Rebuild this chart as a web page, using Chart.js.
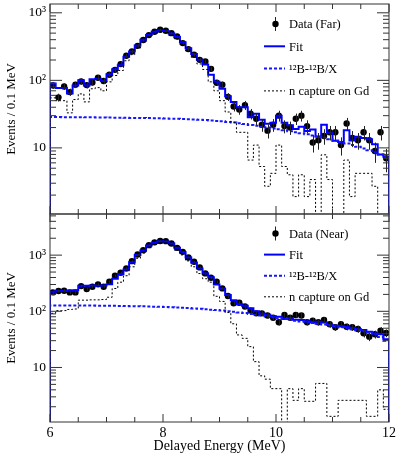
<!DOCTYPE html>
<html><head><meta charset="utf-8">
<script src="https://cdn.jsdelivr.net/npm/chart.js@4/dist/chart.umd.min.js"></script>
<style>
html,body{margin:0;padding:0;background:#fff;}
#wrap{position:relative;width:399px;height:459px;overflow:hidden;}
canvas{position:absolute;left:0;top:0;}
</style></head><body>
<div id="wrap">
<canvas id="cTop" width="399" height="459"></canvas>
<canvas id="cBot" width="399" height="459"></canvas>
</div>
<script>
// ---- bins (MeV) ----
const binEdges = [6.0,6.1,6.2,6.3,6.4,6.5,6.6,6.7,6.8,6.9,7.0,7.1,7.2,7.3,7.4,7.5,7.6,7.7,7.8,7.9,
  8.0,8.1,8.2,8.3,8.4,8.5,8.6,8.7,8.8,8.9,9.0,9.1,9.2,9.3,9.4,9.5,9.6,9.7,9.8,9.9,
  10.0,10.1,10.2,10.3,10.4,10.5,10.6,10.7,10.8,10.9,11.0,11.1,11.2,11.3,11.4,11.5,11.6,11.7,11.8,11.9,12.0];

// ---- Far site ----
const farData = [84,56,81,67,86,96,85,93,109,98, 121,143,174,231,267,324,395,468,525,560,
  541,500,446,356,290,239,201,190,148,92, 86,57,41,37,43,32,27,22,18,22,
  30,21,20,27,30,21,12,13,15,17, 17,11,23,14,13,17,13,9,17,7];
const farFit = [90,77,77,64,84,100,84,104,106,98, 123,146,168,223,268,328,398,468,522,547,
  537,492,437,367,299,246,201,171,121,95, 75,58,48,40,40,28.5,32,26,22.7,23.6,
  30,23.6,21.7,19,20.5,17.8,18.7,14.7,22,16.8, 12.8,12.2,18.2,12.9,14.6,14,13.4,11.3,8,7.4];
const farB12 = [28.6,28.6,28.5,28.5,28.4,28.4,28.3,28.3,28.2,28.2, 28.1,28.0,28.0,27.9,27.8,27.8,27.7,27.6,27.5,27.4,
  27.3,27.1,27.0,26.8,26.6,26.4,26.1,25.8,25.5,25.1, 24.7,24.2,23.7,23.1,22.5,21.9,21.3,20.6,20.0,19.4,
  18.8,18.3,17.7,17.1,16.5,15.9,15.3,14.7,14.1,13.4, 12.8,12.2,11.6,11.0,10.4,9.8,9.2,8.6,8.0,7.4];
const farGd = [55,50,50,33,52,63,48,75,78,70, 95,118,140,195,240,300,370,440,495,520,
  510,465,410,340,272,220,175,145,95,70, 50,34,24,17,17,6.6,11,5.3,2.7,4.2,
  11,5.3,4,1.9,4,1.9,3.4,0,7.9,3.4, 0,0,6.6,1.9,4.2,4.2,4.2,2.7,0,0];

// ---- Near site ----
const nearData = [217,230,232,217,217,281,249,274,302,274, 336,429,485,580,782,1028,1228,1506,1690,1785,
  1774,1615,1348,1145,910,761,605,473,395,336, 256,187,139,142,122,103,92,92,84,77,
  64,86,77,86,84,64,68,64,70,59, 52,59,53,52,48.5,40.6,35.4,39,45.3,41];
const nearFit = [222,230,230,235,237,285,285,287,286,288, 303,380,455,554,744,1003,1213,1482,1661,1760,
  1749,1608,1347,1126,904,733,581,470,405,300, 253,195,158,134,126,113.5,100,91,87,82,
  80,73,75,71,70,66.5,64.5,65,63,57.4, 55.4,54.6,52.6,50.6,48.6,46.6,43.4,40.4,39,31.8];
const nearB12 = [127,127,127,127,127,127,126.5,126.5,126,126, 125.5,125,124.5,124,123.5,123,122.5,122,121,120,
  119,118,117,115.5,114,112.5,111,109,107,105, 103,100.5,98,95.5,93,90,87,84,81,78,
  75.5,73,70.5,68,66,64,62,60,58,56, 54,52,50,48,46,44,42,39,35,30];
const nearGd = [92,103,103,108,110,158,158,160,160,162, 178,255,330,430,620,880,1090,1360,1540,1640,
  1630,1490,1230,1010,790,620,470,380,330,185, 150,95,60,38,33,23.5,12.7,7.1,6.2,4.2,
  4.2,0,4.2,2.6,4.2,2.5,2.5,5.2,5.2,1.35, 1.35,2.6,2.6,2.6,2.6,2.6,1.35,1.35,4,1.8];

// ---- ticks & labels ----
const yTickValues = [10, 100, 1000];
const yTickLabels = ['10', '10²', '10³'];
const xTickValues = [6, 8, 10, 12];
const xTickLabels = ['6', '8', '10', '12'];
const xMinorTicks = [6.5, 7, 7.5, 8.5, 9, 9.5, 10.5, 11, 11.5];
const legendLabels = ['Fit', '¹²B-¹²B/X', 'n capture on Gd'];

const FONT = "'Liberation Serif', 'DejaVu Serif', serif";
Chart.defaults.font.family = FONT;
Chart.defaults.color = '#000';

const FLOOR = 1e-3; // empty bins sit below the axis
function stepPoints(vals){
  const n = vals.length;
  const pts = [{x: binEdges[0], y: FLOOR}];
  vals.forEach((v,i)=>pts.push({x: binEdges[i], y: v > 0 ? v : FLOOR}));
  pts.push({x: binEdges[n], y: vals[n-1] > 0 ? vals[n-1] : FLOOR});
  pts.push({x: binEdges[n], y: FLOOR});
  return pts;
}
function centerPoints(vals){
  return vals.map((v,i)=>({x:(binEdges[i]+binEdges[i+1])/2, y:v}));
}

const framePlugin = {
  id: 'frame',
  afterDatasetsDraw(chart){
    const {ctx, chartArea:a, scales:{x,y}} = chart;
    ctx.save();
    const ds = chart.data.datasets.find(d=>d.isData);
    if (ds){
      ctx.strokeStyle = '#222'; ctx.lineWidth = 1;
      ctx.beginPath();
      ds.data.forEach(p=>{
        const e = Math.sqrt(p.y);
        const px = Math.round(x.getPixelForValue(p.x)) + 0.5;
        const y1 = y.getPixelForValue(p.y + e);
        const y2 = y.getPixelForValue(Math.max(p.y - e, FLOOR));
        ctx.moveTo(px, Math.max(y1, a.top)); ctx.lineTo(px, Math.min(y2, a.bottom));
      });
      ctx.stroke();
    }
    ctx.restore();
  },
  afterDraw(chart){
    const {ctx, chartArea:a, scales:{x,y}} = chart;
    ctx.save();
    ctx.strokeStyle = '#333'; ctx.lineWidth = 1;
    ctx.strokeRect(a.left, a.top, a.right-a.left, a.bottom-a.top);
    ctx.beginPath();
    xTickValues.forEach(v=>{
      const px = x.getPixelForValue(v);
      ctx.moveTo(px, a.bottom); ctx.lineTo(px, a.bottom-8);
      ctx.moveTo(px, a.top); ctx.lineTo(px, a.top+8);
    });
    xMinorTicks.forEach(v=>{
      const px = x.getPixelForValue(v);
      ctx.moveTo(px, a.bottom); ctx.lineTo(px, a.bottom-5);
      ctx.moveTo(px, a.top); ctx.lineTo(px, a.top+5);
    });
    for (let d = 1; d <= 10000; d *= 10){
      for (let k = 1; k <= 9; k++){
        const v = k*d;
        if (v < y.min || v > y.max) continue;
        const py = y.getPixelForValue(v);
        const len = k === 1 ? 12 : 6;
        ctx.moveTo(a.left, py); ctx.lineTo(a.left+len, py);
        ctx.moveTo(a.right, py); ctx.lineTo(a.right-len, py);
      }
    }
    ctx.stroke();

    // legend
    const opt = chart.options.plugins.histLegend;
    const lx = a.right - 125, mx = a.right - 114, tx = a.right - 100;
    let ry = a.top + opt.y0;
    ctx.font = '12.5px ' + FONT; ctx.fillStyle = '#000';
    ctx.textBaseline = 'middle'; ctx.textAlign = 'left';
    ctx.beginPath(); ctx.strokeStyle = '#222'; ctx.lineWidth = 1;
    ctx.moveTo(mx+0.5, ry-7); ctx.lineTo(mx+0.5, ry+7); ctx.stroke();
    ctx.beginPath(); ctx.arc(mx+0.5, ry, 3.2, 0, Math.PI*2); ctx.fill();
    ctx.fillText(opt.title, tx, ry+1);
    const styles = [
      {c:'#0000ff', w:2, dash:[]},
      {c:'#1515ff', w:2, dash:[3,2]},
      {c:'#000', w:1, dash:[2,2]}
    ];
    legendLabels.forEach((lab,i)=>{
      ry += opt.dy;
      const s = styles[i];
      ctx.beginPath(); ctx.strokeStyle = s.c; ctx.lineWidth = s.w; ctx.setLineDash(s.dash);
      ctx.moveTo(lx, ry); ctx.lineTo(lx+21, ry); ctx.stroke();
      ctx.setLineDash([]);
      ctx.fillText(lab, tx, ry+1);
    });
    ctx.restore();
  }
};

function makeChart(id, cfg){
  const yScale = {
    type: 'logarithmic', position: 'left', min: cfg.ymin, max: cfg.ymax,
    afterFit: s => { s.width = 50; s.paddingTop = 0; s.paddingBottom = 0; },
    afterBuildTicks: s => { s.ticks = yTickValues.filter(v=>v>=s.min && v<=s.max).map(v=>({value:v})); },
    ticks: { font: {size: 13.5}, padding: 4, color:'#000',
      callback: v => yTickLabels[yTickValues.indexOf(v)] },
    grid: { display: false, drawTicks: false },
    border: { display: false },
    title: { display: true, text: 'Events / 0.1 MeV', font: {size: 13}, color:'#000', padding: {top: 4, bottom: 0} }
  };
  const xScale = {
    type: 'linear', min: 6, max: 12, display: cfg.showX,
    afterFit: s => { if (cfg.showX) { s.height = 37; } else { s.height = 0; } s.paddingLeft = 0; s.paddingRight = 0; },
    afterBuildTicks: s => { s.ticks = xTickValues.map(v=>({value:v})); },
    ticks: { font: {size: 14}, padding: 3, autoSkip: false, maxRotation: 0, color:'#000',
      callback: v => xTickLabels[xTickValues.indexOf(v)] },
    grid: { display: false, drawTicks: false },
    border: { display: false },
    title: { display: true, text: 'Delayed Energy (MeV)', font: {size: 14}, color:'#000', padding: {top: 0, bottom: 4} }
  };
  return new Chart(document.getElementById(id), {
    type: 'line',
    data: { datasets: [
      { label: 'n capture on Gd', data: stepPoints(cfg.gd), stepped: 'before', borderColor: '#000', borderWidth: 1, borderDash: [2,2], pointRadius: 0, fill: false },
      { label: '12B-12B/X', data: stepPoints(cfg.b12), stepped: 'before', borderColor: '#1515ff', borderWidth: 2, borderDash: [3,2], pointRadius: 0, fill: false },
      { label: 'Fit', data: stepPoints(cfg.fit), stepped: 'before', borderColor: '#0000ff', borderWidth: 2, pointRadius: 0, fill: false },
      { label: cfg.title, isData: true, data: centerPoints(cfg.data), showLine: false, pointRadius: 3.2, pointBackgroundColor: '#000', pointBorderColor: '#000', pointBorderWidth: 0 }
    ]},
    options: {
      responsive: false, animation: false, devicePixelRatio: 1,
      layout: { padding: cfg.padding },
      scales: { x: xScale, y: yScale },
      plugins: { legend: {display: false}, tooltip: {enabled: false},
        histLegend: { title: cfg.title, y0: cfg.ly0, dy: cfg.ldy } }
    },
    plugins: [framePlugin]
  });
}

makeChart('cTop', { data: farData, fit: farFit, b12: farB12, gd: farGd, title: 'Data (Far)',
  ymin: 1.05, ymax: 1350, showX: false, padding: {left:0, right:10, top:4, bottom:245}, ly0: 20, ldy: 22.3 });
makeChart('cBot', { data: nearData, fit: nearFit, b12: nearB12, gd: nearGd, title: 'Data (Near)',
  ymin: 1.07, ymax: 5400, showX: true, padding: {left:0, right:10, top:214, bottom:0}, ly0: 19.5, ldy: 21.1 });
</script>
</body></html>
